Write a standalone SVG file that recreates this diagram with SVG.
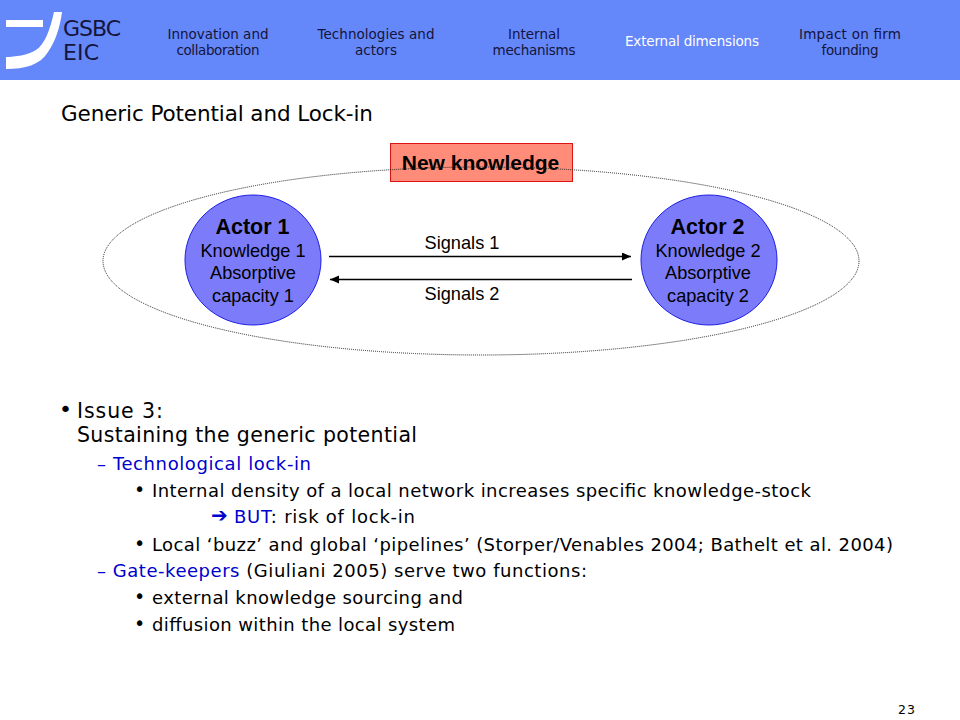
<svg xmlns="http://www.w3.org/2000/svg" width="960" height="720" viewBox="0 0 960 720">
<style>
.v{font-family:"DejaVu Sans",Verdana,sans-serif;fill:#000}
.h{font-size:13.500px;fill:#14143c;text-anchor:middle}
.a{font-family:"Liberation Sans",Arial,sans-serif;fill:#000;text-anchor:middle}
.s{font-size:18.200px}
.actor{fill:#7c7cfa;stroke:#1e1ee6;stroke-width:1}
</style>
<defs>
<marker id="ah" markerUnits="userSpaceOnUse" markerWidth="10" markerHeight="9" refX="9" refY="4" orient="auto"><path d="M0 0L9 4L0 8Z" fill="#000"/></marker>
</defs>
<rect width="960" height="80" fill="#6487fa"/>
<path d="M6 20H43V27H6Z" fill="#fff"/>
<path d="M54 12C50 30 45 44 36 50C28 55 15 57 6 57V69C25 69 40 65 48 52C55 42 60 28 62 12Z" fill="#fff"/>
<text class="v" x="63" y="36" font-size="22" style="fill:#14143c" textLength="58">GSBC</text>
<text class="v" x="63" y="60" font-size="22" style="fill:#14143c" textLength="36">EIC</text>
<g id="nav">
<text class="v h" x="218" y="39" textLength="101">Innovation and</text>
<text class="v h" x="218" y="55" textLength="83">collaboration</text>
<text class="v h" x="376" y="39" textLength="117">Technologies and</text>
<text class="v h" x="376" y="55" textLength="42">actors</text>
<text class="v h" x="534" y="39" textLength="52">Internal</text>
<text class="v h" x="534" y="55" textLength="83">mechanisms</text>
<text class="v h" x="692" y="46" textLength="134" style="fill:#fff">External dimensions</text>
<text class="v h" x="850" y="39" textLength="102">Impact on firm</text>
<text class="v h" x="850" y="55" textLength="57">founding</text>
</g>
<text class="v" x="61" y="121" font-size="21.500" textLength="312">Generic Potential and Lock-in</text>
<g id="new-knowledge">
<rect x="390.500" y="143.500" width="182" height="38" fill="#ff8c78" stroke="#dc1414" stroke-width="1"/>
<text class="a" x="480.500" y="170" font-size="21" font-weight="bold">New knowledge</text>
</g>
<g id="context">
<ellipse cx="481" cy="261" rx="378" ry="94" fill="none" stroke="#222" stroke-width="1" stroke-dasharray="1 1"/>
</g>
<g id="actor-1">
<ellipse class="actor" cx="253" cy="260" rx="68" ry="65"/>
<text class="a" x="252.500" y="234" font-size="21.500" font-weight="bold">Actor 1</text>
<text class="a s" x="253" y="257">Knowledge 1</text>
<text class="a s" x="253" y="279">Absorptive</text>
<text class="a s" x="253" y="302">capacity 1</text>
</g>
<g id="actor-2">
<ellipse class="actor" cx="709" cy="260" rx="68" ry="65"/>
<text class="a" x="707.500" y="234" font-size="21.500" font-weight="bold">Actor 2</text>
<text class="a s" x="708" y="257">Knowledge 2</text>
<text class="a s" x="708" y="279">Absorptive</text>
<text class="a s" x="708" y="302">capacity 2</text>
</g>
<g id="connectors" stroke="#000" stroke-width="1.300" fill="none">
<path d="M329 256.500H631" marker-end="url(#ah)"/>
<path d="M632 279.500H330" marker-end="url(#ah)"/>
</g>
<text class="a s" x="462" y="249">Signals 1</text>
<text class="a s" x="462" y="300">Signals 2</text>
<g id="body">
<text class="v" x="59" y="417" font-size="22">•</text>
<text class="v" x="77" y="417.500" font-size="20.500" textLength="86">Issue 3:</text>
<text class="v" x="77" y="441.500" font-size="20.500" textLength="340">Sustaining the generic potential</text>
<text class="v" x="97" y="469.500" font-size="18" textLength="214" style="fill:#0000cc">– Technological lock-in</text>
<text class="v" x="134" y="496" font-size="19">•</text>
<text class="v" x="152" y="496.500" font-size="18" textLength="659">Internal density of a local network increases specific knowledge-stock</text>
<text class="v" x="211" y="522" font-size="20" font-weight="bold" style="fill:#0000cc" textLength="17">➔</text>
<text class="v" x="234" y="522.500" font-size="18" textLength="181"><tspan style="fill:#0000cc">BUT</tspan>: risk of lock-in</text>
<text class="v" x="134" y="550" font-size="19">•</text>
<text class="v" x="152" y="550.500" font-size="18" textLength="741">Local ‘buzz’ and global ‘pipelines’ (Storper/Venables 2004; Bathelt et al. 2004)</text>
<text class="v" x="97" y="576.500" font-size="18" textLength="490"><tspan style="fill:#0000cc">– Gate-keepers</tspan> (Giuliani 2005) serve two functions:</text>
<text class="v" x="134" y="603" font-size="19">•</text>
<text class="v" x="152" y="603.500" font-size="18" textLength="311">external knowledge sourcing and</text>
<text class="v" x="134" y="630" font-size="19">•</text>
<text class="v" x="152" y="630.500" font-size="18" textLength="303">diffusion within the local system</text>
</g>
<text class="v" x="898" y="714" font-size="12.500" textLength="17">23</text>
</svg>
